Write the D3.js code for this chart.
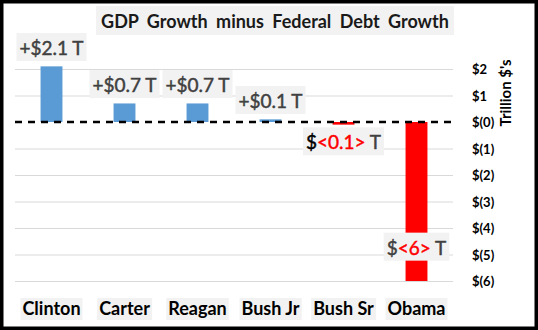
<!DOCTYPE html>
<html>
<head>
<meta charset="utf-8">
<script src="https://cdn.jsdelivr.net/npm/d3@7"></script>
<style>
  html, body { margin: 0; padding: 0; background: #fff; }
  svg { display: block; font-family: Lato, "Open Sans", sans-serif; }
</style>
</head>
<body>
<svg id="chart" width="538" height="330"></svg>
<script>
// ---- data ----
const categories = ["Clinton", "Carter", "Reagan", "Bush Jr", "Bush Sr", "Obama"];
const values = [2.1, 0.7, 0.7, 0.1, -0.1, -6];
const yTickValues = [2, 1, 0, -1, -2, -3, -4, -5, -6];
const yTickLabels = ["$2", "$1", "$(0)", "$(1)", "$(2)", "$(3)", "$(4)", "$(5)", "$(6)"];
const titleText = "GDP Growth minus Federal Debt Growth";
const axisTitle = "Trillion $'s";

// ---- layout ----
const W = 538, H = 330;
const plotLeft = 15, plotRight = 453, plotTop = 69, plotBottom = 281;
const svg = d3.select("#chart");

svg.append("rect").attr("x", 0).attr("y", 0).attr("width", W).attr("height", H).attr("fill", "#fff");

const x = d3.scaleBand().domain(categories).range([plotLeft, plotRight])
  .paddingInner(0.7).paddingOuter(0.35);
const y = d3.scaleLinear().domain([-6, 2]).range([plotBottom, plotTop]);

// gridlines
svg.append("g").selectAll("line").data(yTickValues.filter(v => v !== 0)).join("line")
  .attr("x1", plotLeft).attr("x2", plotRight)
  .attr("y1", d => y(d) + 0.5).attr("y2", d => y(d) + 0.5)
  .attr("stroke", "#d9d9d9").attr("stroke-width", 1);

// right axis labels
const yAxis = d3.axisRight(y).tickValues(yTickValues)
  .tickFormat((d, i) => yTickLabels[i]).tickSize(0).tickPadding(0);
const gy = svg.append("g").attr("transform", `translate(472,0)`).call(yAxis);
gy.select(".domain").remove();
gy.selectAll("text").attr("font-family", "Lato, sans-serif").attr("font-size", 13)
  .attr("font-weight", "bold").attr("fill", "#000").attr("dy", "0.35em");

// axis title
svg.append("text").attr("transform", "translate(511,93) rotate(-90)")
  .attr("text-anchor", "middle").attr("font-size", 15).attr("font-weight", "bold")
  .attr("fill", "#000").text(axisTitle);

// bars
svg.append("g").selectAll("rect").data(values).join("rect")
  .attr("x", (d, i) => x(categories[i]))
  .attr("width", x.bandwidth())
  .attr("y", d => Math.min(y(d), y(0)))
  .attr("height", d => Math.abs(y(d) - y(0)))
  .attr("fill", d => d >= 0 ? "#5b9bd5" : "#ff0000");

// zero dashed line
svg.append("line").attr("x1", plotLeft).attr("x2", plotRight)
  .attr("y1", y(0)).attr("y2", y(0))
  .attr("stroke", "#000").attr("stroke-width", 2.5).attr("stroke-dasharray", "7,6");

// data labels
const lblG = svg.append("g");
function part(t, color, str) {
  t.append("tspan").attr("fill", color).attr("stroke", color).attr("stroke-width", 0.45).text(str);
}
values.forEach((v, i) => {
  const cx = x(categories[i]) + x.bandwidth() / 2;
  let cy;
  if (v >= 0) cy = y(v) - 18;
  else if (Math.abs(v) > 3) cy = y(v) - 33;
  else cy = y(v) + 18;
  const g = lblG.append("g");
  const bg = g.append("rect").attr("fill", "#f2f2f2");
  const t = g.append("text").attr("x", cx).attr("y", cy).attr("dy", "0.35em")
    .attr("text-anchor", "middle").attr("font-size", 19);
  if (v >= 0) {
    part(t, "#404040", "+$" + d3.format(".1f")(v) + " T");
  } else {
    const a = Math.abs(v);
    const s = Number.isInteger(a) ? String(a) : d3.format(".1f")(a);
    part(t, a < 1 ? "#000" : "#404040", "$");
    part(t, "#ff0000", "<" + s + ">");
    part(t, "#404040", " T");
  }
  const bb = t.node().getBBox();
  bg.attr("x", bb.x - 3).attr("y", bb.y - 3).attr("width", bb.width + 6).attr("height", bb.height + 5);
});

// category labels
const catG = svg.append("g");
categories.forEach((c, i) => {
  const cx = x(c) + x.bandwidth() / 2;
  const g = catG.append("g");
  const bg = g.append("rect").attr("fill", "#f2f2f2");
  const t = g.append("text").attr("x", cx).attr("y", 315).attr("text-anchor", "middle")
    .attr("font-size", 18).attr("font-weight", "bold").attr("fill", "#000").text(c);
  const bb = t.node().getBBox();
  bg.attr("x", bb.x - 2).attr("y", bb.y + 1).attr("width", bb.width + 4).attr("height", bb.height);
});

// title
const tg = svg.append("g");
const tbg = tg.append("rect").attr("fill", "#f2f2f2");
const tt = tg.append("text").attr("x", 275).attr("y", 28).attr("text-anchor", "middle")
  .attr("font-size", 18).attr("font-weight", "bold").attr("fill", "#1a1a1a")
  .attr("word-spacing", 4).text(titleText);
const tbb = tt.node().getBBox();
tbg.attr("x", tbb.x - 5).attr("y", 6).attr("width", tbb.width + 10).attr("height", 29);

// outer border
svg.append("rect").attr("x", 1.75).attr("y", 1.75).attr("width", W - 3.5).attr("height", H - 3.5)
  .attr("fill", "none").attr("stroke", "#000").attr("stroke-width", 3.5);
</script>
</body>
</html>
